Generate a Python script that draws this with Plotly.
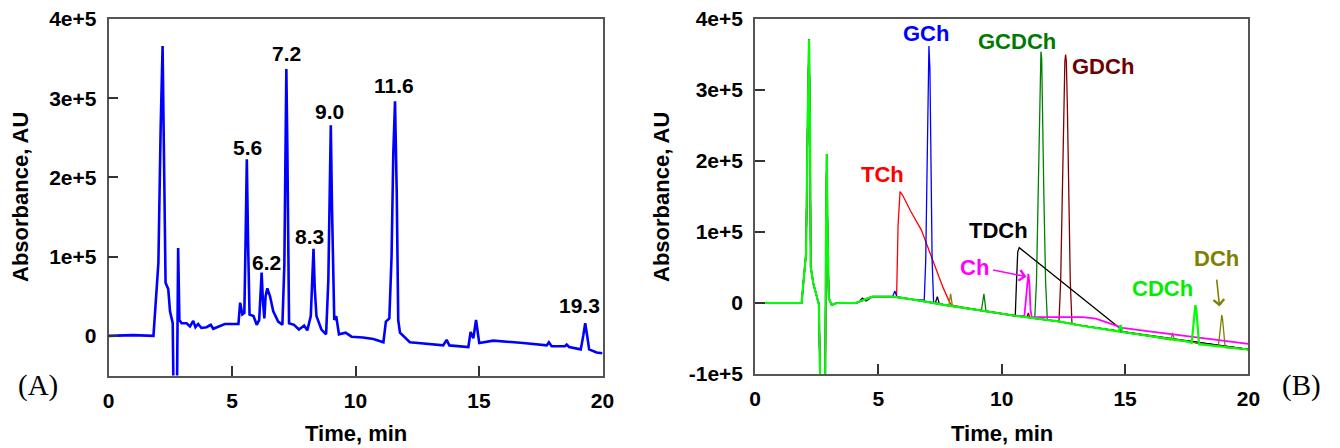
import plotly.graph_objects as go

# Absorbance values are in units of 1e5 AU; time in minutes.
AU = 1e5

# ---------------- Panel A: sample chromatogram ----------------
sample_time = [
    0.00, 1.00, 1.82, 1.92, 2.02, 2.11, 2.19, 2.25, 2.31, 2.42, 2.49, 2.60, 2.65,
    2.76, 2.82, 2.87, 2.96, 3.16, 3.30, 3.43, 3.52, 3.63, 3.76, 3.97, 4.14, 4.24,
    4.51, 4.71, 5.26, 5.33, 5.42, 5.50, 5.55, 5.60, 5.65, 5.71, 5.87, 6.00, 6.10,
    6.16, 6.20, 6.25, 6.31, 6.36, 6.43, 6.54, 6.67, 6.87, 7.04, 7.12, 7.16, 7.20,
    7.24, 7.28, 7.31, 7.51, 7.71, 7.92, 8.05, 8.19, 8.25, 8.30, 8.35, 8.42, 8.62,
    8.81, 8.90, 8.95, 9.00, 9.05, 9.10, 9.14, 9.22, 9.33, 9.60, 9.84, 10.30, 10.72,
    11.13, 11.23, 11.37, 11.46, 11.53, 11.60, 11.67, 11.73, 11.80, 12.00, 12.20,
    12.54, 13.55, 13.69, 13.80, 14.57, 14.66, 14.77, 14.88, 15.01, 15.58, 16.79,
    17.74, 17.83, 17.94, 18.48, 18.55, 18.65, 19.12, 19.22, 19.30, 19.38, 19.46,
    19.76, 20.00,
]
sample_abs = [
    0.00, 0.01, 0.00, 0.50, 0.92, 2.60, 3.66, 2.18, 0.67, 0.59, 0.31, 0.16, -1.20,
    -1.20, 1.11, 0.20, 0.16, 0.16, 0.12, 0.19, 0.11, 0.15, 0.10, 0.11, 0.14, 0.09,
    0.12, 0.15, 0.15, 0.42, 0.27, 0.29, 1.20, 2.23, 1.20, 0.27, 0.25, 0.14, 0.20,
    0.55, 0.80, 0.45, 0.22, 0.50, 0.60, 0.50, 0.31, 0.18, 0.14, 0.90, 2.40, 3.37,
    2.40, 0.80, 0.16, 0.14, 0.08, 0.13, 0.07, 0.25, 0.70, 1.10, 0.60, 0.25, 0.08,
    0.02, 0.70, 2.10, 2.66, 1.60, 0.60, 0.20, 0.25, 0.02, 0.04, -0.01, -0.02, -0.04,
    -0.08, 0.18, 0.22, 1.00, 2.30, 2.96, 1.80, 0.20, 0.04, -0.02, -0.08,
    -0.09, -0.12, -0.05, -0.12, -0.14, 0.05, -0.03, 0.20, -0.09, -0.06, -0.09,
    -0.12, -0.08, -0.13, -0.13, -0.11, -0.14, -0.17, 0.00, 0.16, 0.00, -0.17,
    -0.21, -0.22,
]

# retention-time labels of panel A and their pixel offsets from the apex
peak_labels_a = ["5.6", "6.2", "7.2", "8.3", "9.0", "11.6", "19.3"]
label_dx_a = [1, 5, 0, -4, -1, -1, -6]
label_dy_a = [12, 10, 15, 12, 14, 16, 18]

# ---------------- Panel B: standards ----------------
# shared injection front and baseline drift
front_time = [0.00, 1.89, 1.96, 2.07, 2.13, 2.19, 2.23, 2.26, 2.36, 2.50, 2.59,
              2.66, 2.84, 2.88, 2.91, 2.94, 2.99, 3.11, 3.31]
front_abs = [0.00, 0.00, 0.28, 0.70, 2.40, 3.71, 2.40, 0.51, 0.28, 0.09, -0.02,
             -1.50, -1.50, 1.00, 2.10, 1.00, 0.07, -0.03, 0.00]
drift_time = [4.08, 4.40, 4.76, 5.57, 6.37, 7.72, 9.07, 10.55, 12.30, 13.25,
              15.54, 17.50, 20.00]
drift_abs = [0.00, 0.04, 0.09, 0.09, 0.05, -0.03, -0.10, -0.18, -0.26, -0.32,
             -0.44, -0.54, -0.655]

# peak segments of each standard (time list, absorbance list)
tch_peaks = [
    ([5.74, 5.80, 5.88, 5.98, 6.30, 6.74, 7.15, 7.62, 7.89, 7.98],
     [0.09, 1.10, 1.57, 1.52, 1.30, 1.03, 0.64, 0.22, 0.01, -0.03]),
]
gch_peaks = [
    ([5.58, 5.67, 5.75], [0.09, 0.17, 0.09]),
    ([6.86, 6.92, 6.97, 7.01, 7.05, 7.09, 7.13, 7.18, 7.24],
     [0.04, 0.60, 2.00, 3.30, 3.62, 3.30, 2.00, 0.60, 0.01]),
]
gcdch_peaks = [
    ([9.18, 9.28, 9.36], [-0.10, 0.13, -0.11]),
    ([11.34, 11.41, 11.48, 11.53, 11.57, 11.59, 11.62, 11.66, 11.71, 11.78, 11.85],
     [-0.21, 0.30, 1.50, 2.80, 3.45, 3.54, 3.45, 2.80, 1.50, 0.30, -0.24]),
]
gdch_peaks = [
    ([11.02, 11.08, 11.14], [-0.20, -0.14, -0.21]),
    ([12.32, 12.39, 12.46, 12.51, 12.56, 12.59, 12.62, 12.66, 12.71, 12.78, 12.85],
     [-0.27, 0.30, 1.50, 2.80, 3.40, 3.50, 3.40, 2.80, 1.50, 0.30, -0.30]),
]
tdch_peaks = [
    ([4.20, 4.35, 4.50], [0.01, 0.07, 0.03]),
    ([7.31, 7.39, 7.47], [0.00, 0.09, -0.01]),
    ([10.55, 10.60, 10.65, 10.71, 14.80, 14.92], [-0.18, 0.30, 0.72, 0.78, -0.36, -0.41]),
]
ch_peaks = [
    ([10.92, 11.00, 11.05, 11.08, 11.12, 11.17, 11.22, 11.80, 12.60, 13.28, 13.82,
      14.36, 14.90, 15.98, 17.50, 20.00],
     [-0.18, 0.10, 0.35, 0.41, 0.30, -0.10, -0.20, -0.20, -0.20, -0.20, -0.22,
      -0.28, -0.35, -0.40, -0.465, -0.575]),
]
cdch_peaks = [
    ([14.74, 14.82, 14.90], [-0.40, -0.31, -0.41]),
    ([17.70, 17.76, 17.81, 17.85, 17.89, 17.94, 18.00],
     [-0.56, -0.35, -0.10, -0.03, -0.10, -0.40, -0.58]),
]
dch_peaks = [
    ([7.86, 7.93, 8.00], [-0.03, 0.13, -0.04]),
    ([16.86, 16.93, 17.00], [-0.52, -0.42, -0.52]),
    ([18.78, 18.85, 18.90, 18.92, 18.95, 19.00, 19.06],
     [-0.61, -0.40, -0.20, -0.17, -0.22, -0.45, -0.63]),
]

standard_names = ["TCh", "GCh", "GCDCh", "GDCh", "TDCh", "DCh", "Ch", "CDCh"]
standard_peaks = [tch_peaks, gch_peaks, gcdch_peaks, gdch_peaks, tdch_peaks,
                  dch_peaks, ch_peaks, cdch_peaks]
standard_colors = ["#FF0000", "#0000FF", "#008000", "#800000", "#000000",
                   "#808000", "#FF00FF", "#00FF00"]
standard_widths = [1.3, 1.3, 1.3, 1.3, 1.3, 1.3, 1.8, 2.2]

# label anchors for panel B (time, absorbance of label centre)
label_b = {
    "GCh": (6.95, 3.79, "#0000FF"),
    "GCDCh": (10.64, 3.68, "#007A00"),
    "GDCh": (14.09, 3.33, "#6E0000"),
    "TCh": (5.15, 1.81, "#FF0000"),
    "TDCh": (9.85, 1.02, "#000000"),
    "Ch": (8.89, 0.50, "#FF00FF"),
    "CDCh": (16.53, 0.21, "#00EE00"),
    "DCh": (18.71, 0.63, "#808000"),
}
# arrows: (tail time, tail abs, tip time, tip abs, colour)
arrows_b = [
    (9.59, 0.47, 11.00, 0.37, "#FF00FF"),
    (18.71, 0.35, 18.83, -0.05, "#808000"),
]


def splice(peaks):
    """Merge a standard's peak segments into the shared front/baseline points."""
    base = list(zip(front_time + drift_time, front_abs + drift_abs))
    kept = [(t, v) for t, v in base
            if not any(seg_t[0] <= t <= seg_t[-1] for seg_t, _ in peaks)]
    pts = kept + [(t, v) for seg_t, seg_v in peaks for t, v in zip(seg_t, seg_v)]
    pts.sort()
    return [p[0] for p in pts], [p[1] * AU for p in pts]


fig = go.Figure()

fig.add_trace(go.Scatter(
    x=sample_time, y=[v * AU for v in sample_abs], mode="lines",
    line=dict(color="#0000FF", width=2.6), xaxis="x", yaxis="y",
    showlegend=False, hoverinfo="skip",
))

for name, peaks, color, width in zip(standard_names, standard_peaks,
                                      standard_colors, standard_widths):
    t, v = splice(peaks)
    fig.add_trace(go.Scatter(
        x=t, y=v, mode="lines", name=name,
        line=dict(color=color, width=width), xaxis="x2", yaxis="y2",
        showlegend=False, hoverinfo="skip",
    ))

SANS = "Liberation Sans, Arial, sans-serif"
FRAME = "#555555"
TICK_FONT = dict(family=SANS, size=21, color="black", weight="bold")

x_ticks = [0, 5, 10, 15, 20]
common_x = dict(
    range=[0, 20], tickvals=x_ticks, ticktext=[str(t) for t in x_ticks],
    ticks="inside", ticklen=10, tickwidth=1.5, tickcolor="#333333",
    showline=True, linecolor=FRAME, linewidth=1.6, mirror=True,
    showgrid=False, zeroline=False, ticklabelstandoff=5, automargin=False,
    tickfont=TICK_FONT,
)
common_y = dict(
    ticks="inside", ticklen=10, tickwidth=1.5, tickcolor="#333333",
    showline=True, linecolor=FRAME, linewidth=1.6, mirror=True,
    showgrid=False, zeroline=False, ticklabelstandoff=6, automargin=False,
    tickfont=TICK_FONT,
)

ya_vals = [0, 1, 2, 3, 4]
yb_vals = [-1, 0, 1, 2, 3, 4]


def sci(v):
    return "0" if v == 0 else f"{v}e+5"


W, H = 1340, 448
fig.update_layout(
    width=W, height=H, margin=dict(l=0, r=0, t=0, b=0, autoexpand=False),
    paper_bgcolor="white", plot_bgcolor="white",
    xaxis=dict(domain=[108.5 / W, 602.5 / W], anchor="y", **common_x),
    yaxis=dict(domain=[1 - 375.5 / H, 1 - 19 / H], anchor="x",
               range=[-0.5 * AU, 4 * AU], tickvals=[v * AU for v in ya_vals],
               ticktext=[sci(v) for v in ya_vals], **common_y),
    xaxis2=dict(domain=[755 / W, 1248.4 / W], anchor="y2", **common_x),
    yaxis2=dict(domain=[1 - 374 / H, 1 - 19 / H], anchor="x2",
                range=[-1 * AU, 4 * AU], tickvals=[v * AU for v in yb_vals],
                ticktext=[sci(v) for v in yb_vals], **common_y),
)

ann = []
# panel A peak labels, anchored at the apex of the labelled retention time
for lab, dx, dy in zip(peak_labels_a, label_dx_a, label_dy_a):
    t = float(lab)
    apex = sample_abs[sample_time.index(t)]
    ann.append(dict(x=t, y=apex * AU, xref="x", yref="y", text=lab,
                    showarrow=False, xanchor="center", yanchor="middle",
                    xshift=dx, yshift=dy,
                    font=dict(family=SANS, size=21, color="black", weight="bold")))

for lab, (t, v, c) in label_b.items():
    ann.append(dict(x=t, y=v * AU, xref="x2", yref="y2", text=lab,
                    showarrow=False, xanchor="center", yanchor="middle",
                    font=dict(family=SANS, size=22, color=c, weight="bold")))

for t0, v0, t1, v1, c in arrows_b:
    ann.append(dict(x=t1, y=v1 * AU, xref="x2", yref="y2", ax=t0, ay=v0 * AU,
                    axref="x2", ayref="y2", text="", showarrow=True,
                    arrowhead=4, arrowsize=1.3, arrowwidth=1.6, arrowcolor=c,
                    standoff=0, startstandoff=0))


def paper_text(x, y, text, font, angle=0):
    return dict(x=x / W, y=1 - y / H, xref="paper", yref="paper", text=text,
                textangle=angle, showarrow=False, xanchor="center",
                yanchor="middle", font=font)


# axis titles
title_font = dict(family=SANS, size=22, color="black", weight="bold")
ann += [
    paper_text(21, 197, "Absorbance, AU", title_font, -90),
    paper_text(662, 197, "Absorbance, AU", title_font, -90),
    paper_text(355.5, 433, "Time, min", title_font),
    paper_text(1002, 433, "Time, min", title_font),
]

# panel tags
tag_font = dict(family="Liberation Serif, Times New Roman, serif", size=29, color="black")
ann += [
    paper_text(38, 385, "(A)", tag_font),
    paper_text(1301, 385, "(B)", tag_font),
]

fig.update_layout(annotations=ann)
fig.write_html("out.html")
